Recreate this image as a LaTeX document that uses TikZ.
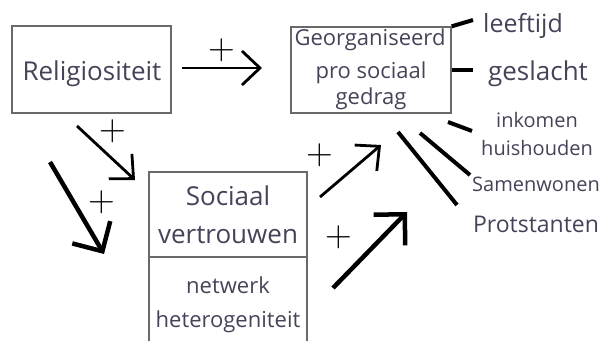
\documentclass[tikz,border=0pt]{standalone}
\usepackage{fontspec}
\setmainfont{Open Sans}
\newfontfamily\plusfont{Latin Modern Roman}
\usetikzlibrary{arrows.meta}
\definecolor{txt}{RGB}{72,66,88}
\definecolor{frame}{RGB}{105,105,105}
\begin{document}
\begin{tikzpicture}[x=1pt,y=-1pt,
  box/.style={draw=frame,line width=1.3pt,inner sep=0pt},
  lbl/.style={text=txt,inner sep=0pt,anchor=base},
  plus/.style={inner sep=0pt,font=\plusfont\fontsize{37}{37}\selectfont},
  tie/.style={line width=4pt},
  thinarrow/.style={line width=2.8pt,-{Straight Barb[length=18pt,width=34pt]}},
  thickarrow/.style={line width=4.5pt,-{Straight Barb[length=22pt,width=44pt]}}]
\useasboundingbox (0,0) rectangle (607,340);

% boxes
\node[box,minimum width=159pt,minimum height=87pt] (rel) at (91.5,69.5) {};
\node[box,minimum width=160pt,minimum height=86pt] (geo) at (371,70) {};
\node[box,minimum width=158pt,minimum height=85pt] (soc) at (228,214.5) {};
\node[box,minimum width=158pt,minimum height=96pt] (net) at (228,305) {};

% box texts
\node[lbl,font=\fontsize{26}{30}\selectfont] (reltxt) at (92,80) {Religiositeit};
\node[lbl,font=\fontsize{22}{28}\selectfont] (geo1) at (370,45) {Georganiseerd};
\node[lbl,font=\fontsize{22}{28}\selectfont] (geo2) at (371,78) {pro sociaal};
\node[lbl,font=\fontsize{22}{28}\selectfont] (geo3) at (371,104) {gedrag};
\node[lbl,font=\fontsize{26}{30}\selectfont] (soc1) at (228,205) {Sociaal};
\node[lbl,font=\fontsize{26}{30}\selectfont] (soc2) at (228,243) {vertrouwen};
\node[lbl,font=\fontsize{22}{28}\selectfont] (net1) at (228,293) {netwerk};
\node[lbl,font=\fontsize{22}{28}\selectfont] (net2) at (228,327) {heterogeniteit};

% control variables
\node[lbl,font=\fontsize{25}{30}\selectfont] (leef) at (523,32) {leeftijd};
\node[lbl,font=\fontsize{26}{30}\selectfont] (gesl) at (538,80) {geslacht};
\node[lbl,font=\fontsize{20}{26}\selectfont] (ink1) at (537,127) {inkomen};
\node[lbl,font=\fontsize{20}{26}\selectfont] (ink2) at (537,155) {huishouden};
\node[lbl,font=\fontsize{20}{26}\selectfont] (samen) at (536,191) {Samenwonen};
\node[lbl,font=\fontsize{23}{28}\selectfont] (prot) at (536,232) {Protstanten};

% ties to control variables
\coordinate (leefc) at (473,20);
\coordinate (geslc) at (473,70);
\coordinate (inka) at (448,122);
\coordinate (inkb) at (472,131);
\coordinate (sama) at (420,133);
\coordinate (samb) at (470,175);
\coordinate (prota) at (398,132);
\coordinate (protb) at (457,205);
\draw[tie] (geo.north east) -- (leefc);
\draw[tie] (geo.east) -- (geslc);
\draw[tie] (inka) -- (inkb);
\draw[tie] (sama) -- (samb);
\draw[tie] (prota) -- (protb);

% arrows
\coordinate (a1s) at (182,68);
\coordinate (a1e) at (262,68);
\coordinate (a2s) at (77,126);
\coordinate (a2e) at (135,180);
\coordinate (a3s) at (50,162);
\coordinate (a3e) at (104,254);
\coordinate (a4s) at (320,197);
\coordinate (a4e) at (381,145);
\coordinate (a5s) at (333,288);
\coordinate (a5e) at (407,212);
\draw[thinarrow] (a1s) -- (a1e);
\draw[thinarrow] (a2s) -- (a2e);
\draw[thickarrow] (a3s) -- (a3e);
\draw[thinarrow] (a4s) -- (a4e);
\draw[thickarrow] (a5s) -- (a5e);

% plus signs
\node[plus] (p1) at (222,50) {+};
\node[plus] (p2) at (113,131) {+};
\node[plus] (p3) at (102,202) {+};
\node[plus] (p4) at (320,155) {+};
\node[plus] (p5) at (339,237) {+};
\end{tikzpicture}
\end{document}
